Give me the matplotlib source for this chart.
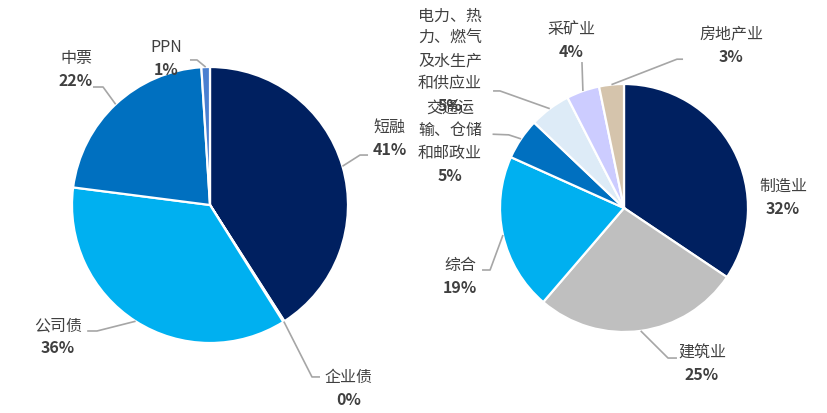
import numpy as np
import matplotlib
matplotlib.use('Agg')
import matplotlib.pyplot as plt

plt.rcParams['font.family'] = ['Noto Sans CJK SC', 'DejaVu Sans']

# left pie: bond types
bond_names = ['短融', '企业债', '公司债', '中票', 'PPN']
bond_values = [41, 0.15, 36, 22, 1]
bond_pct = ['41%', '0%', '36%', '22%', '1%']
bond_colors = ['#002060', '#FFFFFF', '#00B0F0', '#0070C0', '#4A7FD0']

# right pie: industries
ind_names = ['制造业', '建筑业', '综合', '交通运\n输、仓储\n和邮政业',
             '电力、热\n力、燃气\n及水生产\n和供应业', '采矿业', '房地产业']
ind_values = [32, 25, 19, 5, 5, 4, 3]
ind_pct = ['32%', '25%', '19%', '5%', '5%', '4%', '3%']
ind_colors = ['#002060', '#BFBFBF', '#00B0F0', '#0070C0', '#DDEBF7', '#CCCCFF', '#D5C4AC']

# label layout (axes units, radius = 1): text centre, leader elbow, leader end
bond_layout = [
    ((1.30, 0.49), (1.087, 0.362), (1.145, 0.362)),
    ((1.007, -1.326), (0.739, -1.246), (0.797, -1.246)),
    ((-1.101, -0.949), (-0.819, -0.913), (-0.89, -0.913)),
    ((-0.971, 0.986), (-0.775, 0.855), (-0.848, 0.855)),
    ((-0.319, 1.065), (-0.094, 1.051), (-0.145, 1.051)),
]
ind_layout = [
    ((1.282, 0.089), None, None),
    ((0.629, -1.25), (0.355, -1.21), (0.427, -1.21)),
    ((-1.32, -0.55), (-1.08, -0.50), (-1.145, -0.50)),
    ((-1.403, 0.54), (-0.93, 0.59), (-1.06, 0.595)),
    ((-1.403, 1.194), (-1.0, 0.944), (-1.056, 0.944)),
    ((-0.427, 1.355), (-0.339, 1.177), (-0.339, 1.177)),
    ((0.863, 1.315), (0.427, 1.2), (0.476, 1.2)),
]

TEXT_C = '#404040'
LINE_C = '#A6A6A6'
W, H = 827, 414


def make_ax(fig, cx, cy, r):
    # cx, cy in pixels from top-left, r in pixels
    ax = fig.add_axes([(cx - r) / W, (H - cy - r) / H, 2 * r / W, 2 * r / H])
    ax.set_xlim(-1, 1)
    ax.set_ylim(-1, 1)
    ax.axis('off')
    return ax


def draw_pie(ax, values, names, pcts, colors, layout):
    wedges, _ = ax.pie(values, colors=colors, startangle=90, counterclock=False,
                       radius=1, center=(0, 0), frame=True,
                       wedgeprops=dict(edgecolor='white', linewidth=1.6))
    ax.set_xlim(-1, 1)
    ax.set_ylim(-1, 1)
    ax.axis('off')
    for w, name, pct, (txt, elbow, end) in zip(wedges, names, pcts, layout):
        mid = np.deg2rad((w.theta1 + w.theta2) / 2)
        if elbow is not None:
            sx, sy = np.cos(mid), np.sin(mid)
            ax.plot([sx, elbow[0], end[0]], [sy, elbow[1], end[1]],
                    color=LINE_C, lw=1.2, clip_on=False, solid_capstyle='butt')
        lines = name.split('\n') + [pct]
        n = len(lines)
        for i, ln in enumerate(lines):
            off = ((n - 1) / 2 - i) * 16.2
            ax.annotate(ln, xy=txt, xytext=(0, off), textcoords='offset points',
                        ha='center', va='center', fontsize=11.5, color=TEXT_C,
                        fontweight='bold' if i == n - 1 else 'normal',
                        annotation_clip=False)


fig = plt.figure(figsize=(W / 100, H / 100), dpi=100)
ax1 = make_ax(fig, 210, 206, 138)
draw_pie(ax1, bond_values, bond_names, bond_pct, bond_colors, bond_layout)
ax2 = make_ax(fig, 624, 209, 124)
draw_pie(ax2, ind_values, ind_names, ind_pct, ind_colors, ind_layout)

fig.savefig('out.png', dpi=100, facecolor='white')
